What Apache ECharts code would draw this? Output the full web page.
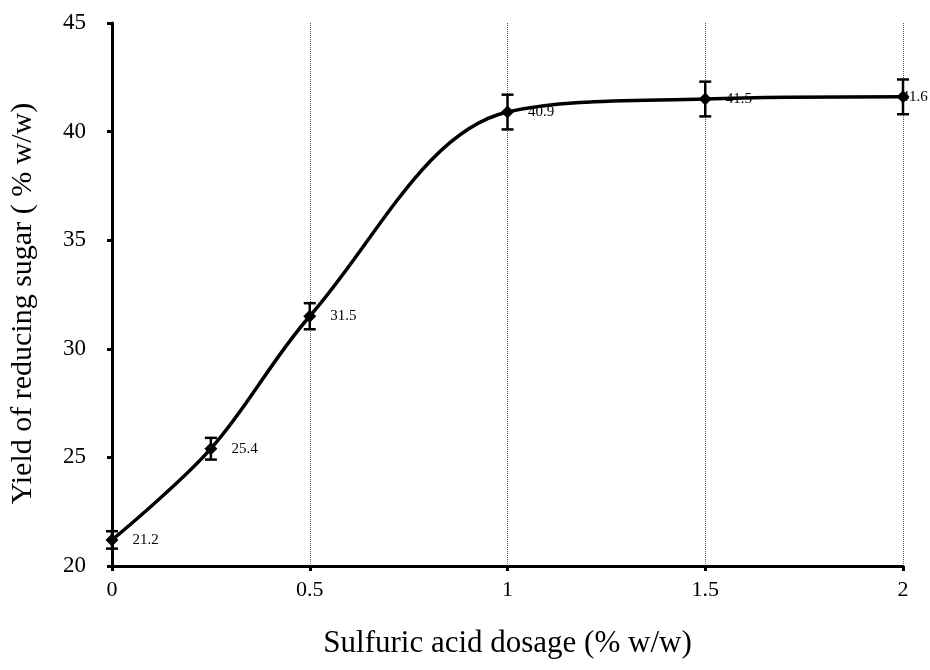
<!DOCTYPE html>
<html>
<head>
<meta charset="utf-8">
<script src="https://cdn.jsdelivr.net/npm/echarts@6/dist/echarts.min.js"></script>
<style>html,body{margin:0;padding:0;background:#fff;}#c{width:930px;height:670px;}</style>
</head>
<body>
<div id="c"></div>
<script>
var dosage = [0, 0.25, 0.5, 1, 1.5, 2];
var yieldVals = [21.2, 25.4, 31.5, 40.9, 41.5, 41.6];
var errors = [0.4, 0.5, 0.6, 0.8, 0.8, 0.8];
var xTicks = [0, 0.5, 1, 1.5, 2];
var yTicks = [20, 25, 30, 35, 40, 45];

var font = 'Liberation Serif, Times New Roman, serif';
var lineData = dosage.map(function (x, i) {
  var item = { value: [x, yieldVals[i]] };
  if (i === dosage.length - 1) {
    item.label = { position: 'right', distance: -8 };
  }
  return item;
});
var errData = dosage.map(function (x, i) { return [x, yieldVals[i] - errors[i], yieldVals[i] + errors[i]]; });

var chart = echarts.init(document.getElementById('c'));
chart.setOption({
  animation: false,
  grid: { left: 112, right: 27, top: 23, bottom: 104, containLabel: false, outerBoundsMode: 'none' },
  xAxis: {
    type: 'value', min: 0, max: 2, interval: 0.5,
    name: 'Sulfuric acid dosage (% w/w)', nameLocation: 'middle', nameGap: 62,
    nameTextStyle: { fontFamily: font, fontSize: 31, color: '#000' },
    axisLine: { onZero: false, lineStyle: { color: '#000', width: 3 } },
    axisTick: { show: true, inside: false, length: 5, lineStyle: { color: '#000', width: 3 } },
    axisLabel: { fontFamily: font, fontSize: 22, color: '#000', margin: 13 },
    splitLine: { show: true, lineStyle: { color: '#555', type: 'dotted', width: 1 } }
  },
  yAxis: {
    type: 'value', min: 20, max: 45, interval: 5,
    name: 'Yield of reducing sugar ( % w/w)', nameLocation: 'middle', nameGap: 74,
    nameTextStyle: { fontFamily: font, fontSize: 30, color: '#000', padding: [0, 18, 0, 0] },
    axisLine: { show: true, lineStyle: { color: '#000', width: 3 } },
    axisTick: { show: true, inside: false, length: 5, lineStyle: { color: '#000', width: 3 } },
    axisLabel: { fontFamily: font, fontSize: 23, color: '#000', margin: 26 },
    splitLine: { show: false }
  },
  series: [
    {
      type: 'custom',
      data: errData,
      z: 3,
      renderItem: function (params, api) {
        var x = api.value(0);
        var lo = api.coord([x, api.value(1)]);
        var hi = api.coord([x, api.value(2)]);
        var w = 6;
        var st = { stroke: '#000', lineWidth: 2.5 };
        return {
          type: 'group',
          children: [
            { type: 'line', shape: { x1: lo[0], y1: lo[1], x2: hi[0], y2: hi[1] }, style: st },
            { type: 'line', shape: { x1: lo[0] - w, y1: lo[1], x2: lo[0] + w, y2: lo[1] }, style: st },
            { type: 'line', shape: { x1: hi[0] - w, y1: hi[1], x2: hi[0] + w, y2: hi[1] }, style: st }
          ]
        };
      }
    },
    {
      type: 'line',
      data: lineData,
      smooth: 0.35,
      z: 4,
      symbol: 'diamond',
      symbolSize: 13,
      lineStyle: { color: '#000', width: 3.5 },
      itemStyle: { color: '#000' },
      label: {
        show: true, position: 'right', distance: 14,
        fontFamily: font, fontSize: 15, color: '#000',
        formatter: function (p) { return p.value[1].toFixed(1); }
      }
    }
  ]
});
</script>
</body>
</html>
